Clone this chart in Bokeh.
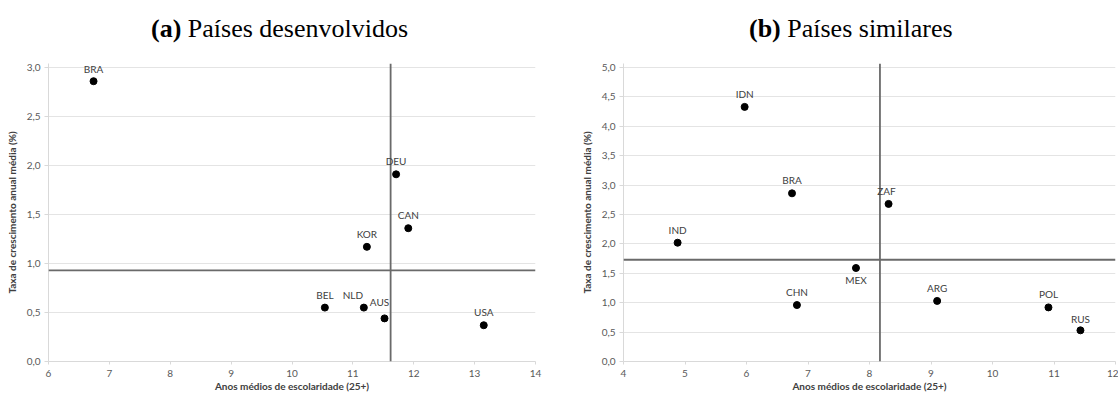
from bokeh.plotting import figure
from bokeh.layouts import row, column
from bokeh.models import (ColumnDataSource, LabelSet, Range1d, Span, Div,
                          FixedTicker, CustomJSTickFormatter)
from bokeh.embed import file_html
from bokeh.resources import INLINE
from bokeh.core.properties import value

# ---------------- data ----------------
# (a) Países desenvolvidos
dev_countries = ["BRA", "DEU", "CAN", "KOR", "BEL", "NLD", "AUS", "USA"]
dev_school = [6.74, 11.71, 11.91, 11.23, 10.54, 11.18, 11.52, 13.15]
dev_growth = [2.86, 1.91, 1.36, 1.17, 0.55, 0.55, 0.44, 0.37]
dev_ref_school = 11.62   # vertical reference line
dev_ref_growth = 0.93    # horizontal reference line
dev_xticks = [6, 7, 8, 9, 10, 11, 12, 13, 14]
dev_yticks = [0.0, 0.5, 1.0, 1.5, 2.0, 2.5, 3.0]

# (b) Países similares
sim_countries = ["IDN", "BRA", "IND", "ZAF", "CHN", "MEX", "ARG", "POL", "RUS"]
sim_school = [5.97, 6.74, 4.88, 8.31, 6.82, 7.78, 9.10, 10.91, 11.43]
sim_growth = [4.33, 2.86, 2.02, 2.68, 0.96, 1.59, 1.03, 0.92, 0.53]
sim_ref_school = 8.17
sim_ref_growth = 1.73
sim_xticks = [4, 5, 6, 7, 8, 9, 10, 11, 12]
sim_yticks = [0.0, 0.5, 1.0, 1.5, 2.0, 2.5, 3.0, 3.5, 4.0, 4.5, 5.0]

x_title = "Anos médios de escolaridade (25+)"
y_title = "Taxa de crescimento anual média (%)"

# ---------------- styling / label placement ----------------
LABEL_DY = 13
dev_label_dx = {"NLD": -11, "AUS": -5}
dev_label_dy = {"AUS": 16, "BRA": 12}
sim_label_dx = {"ZAF": -2}
sim_label_dy = {"MEX": -12, "RUS": 11}

FONT = "Lato"
SERIF = "Liberation Serif"
DIV_H = 50          # caption strip height
FIG_H = 344         # figure height below caption
HEAD = 4            # px of headroom above the top gridline
TOP = 13            # top border of figure
BOTTOM = 32
FRAME_H = FIG_H - TOP - BOTTOM      # includes headroom
SCALE_H = FRAME_H - HEAD


def caption(tag, text, left_px, width):
    html = ("<div style=\"padding-left:%dpx; padding-top:16px; font-family:'%s'; "
            "font-size:26px; line-height:26px; white-space:nowrap; color:#000;\">"
            "<b>%s</b> %s</div>") % (left_px, SERIF, tag, text)
    return Div(text=html, width=width, height=DIV_H, margin=0)


def make_panel(names, xs, ys, ref_x, ref_y, xticks, yticks, dx, dy,
               width, border_left, border_right):
    x0, x1 = xticks[0], xticks[-1]
    y0, y1 = yticks[0], yticks[-1]
    y_top = y1 + HEAD * (y1 - y0) / SCALE_H
    p = figure(width=width, height=FIG_H, output_backend="svg",
               toolbar_location=None, title=None,
               x_range=Range1d(x0, x1), y_range=Range1d(y0, y_top),
               min_border_left=border_left, min_border_right=border_right,
               min_border_top=TOP, min_border_bottom=BOTTOM, margin=0)
    p.outline_line_color = None
    p.background_fill_color = "white"
    p.border_fill_color = "white"
    p.xgrid.grid_line_color = None
    p.ygrid.grid_line_color = "#e4e4e4"
    p.ygrid.grid_line_width = 1

    fmt = CustomJSTickFormatter(code="return tick.toFixed(1).replace('.', ',');")
    p.yaxis.ticker = FixedTicker(ticks=yticks)
    p.yaxis.formatter = fmt
    p.xaxis.ticker = FixedTicker(ticks=xticks)
    for ax in (p.xaxis[0], p.yaxis[0]):
        ax.axis_line_color = "#d9d9d9"
        ax.major_tick_line_color = "#d9d9d9"
        ax.major_tick_in = 0
        ax.minor_tick_line_color = None
        ax.major_label_text_font = FONT
        ax.major_label_text_font_size = "10px"
        ax.major_label_text_color = "#595959"
        ax.axis_label_text_font = FONT
        ax.axis_label_text_font_size = "10px"
        ax.axis_label_text_font_style = "bold"
        ax.axis_label_text_color = "#404040"
    p.xaxis.major_tick_out = 3
    p.xaxis.major_label_standoff = 5
    p.xaxis.axis_label_standoff = 0
    p.yaxis.major_tick_out = 4
    p.yaxis.major_label_standoff = 4
    p.yaxis.axis_label_standoff = 6
    p.xaxis.axis_label = x_title
    p.yaxis.axis_label = y_title

    p.add_layout(Span(location=ref_x, dimension="height",
                      line_color="#6a6a6a", line_width=1.8))
    p.add_layout(Span(location=ref_y, dimension="width",
                      line_color="#6a6a6a", line_width=1.8))

    src = ColumnDataSource(dict(
        x=xs, y=ys, name=names,
        dx=[dx.get(n, 0) for n in names],
        dy=[dy.get(n, LABEL_DY) for n in names],
    ))
    p.scatter("x", "y", source=src, size=7, color="black")
    p.add_layout(LabelSet(x="x", y="y", text="name", x_offset="dx", y_offset="dy",
                          source=src, text_align="center", text_baseline="middle",
                          text_font=value(FONT), text_font_size=value("10px"),
                          text_color="#404040"))
    return p


p1 = make_panel(dev_countries, dev_school, dev_growth, dev_ref_school, dev_ref_growth,
                dev_xticks, dev_yticks, dev_label_dx, dev_label_dy, 560, 48, 25)
p2 = make_panel(sim_countries, sim_school, sim_growth, sim_ref_school, sim_ref_growth,
                sim_xticks, sim_yticks, sim_label_dx, sim_label_dy, 558, 63, 3)

c1 = column(caption("(a)", "Países desenvolvidos", 151, 560), p1, spacing=0)
c2 = column(caption("(b)", "Países similares", 189, 558), p2, spacing=0)
layout = row(c1, c2, spacing=0)
open("out.html", "w").write(file_html(layout, INLINE))
